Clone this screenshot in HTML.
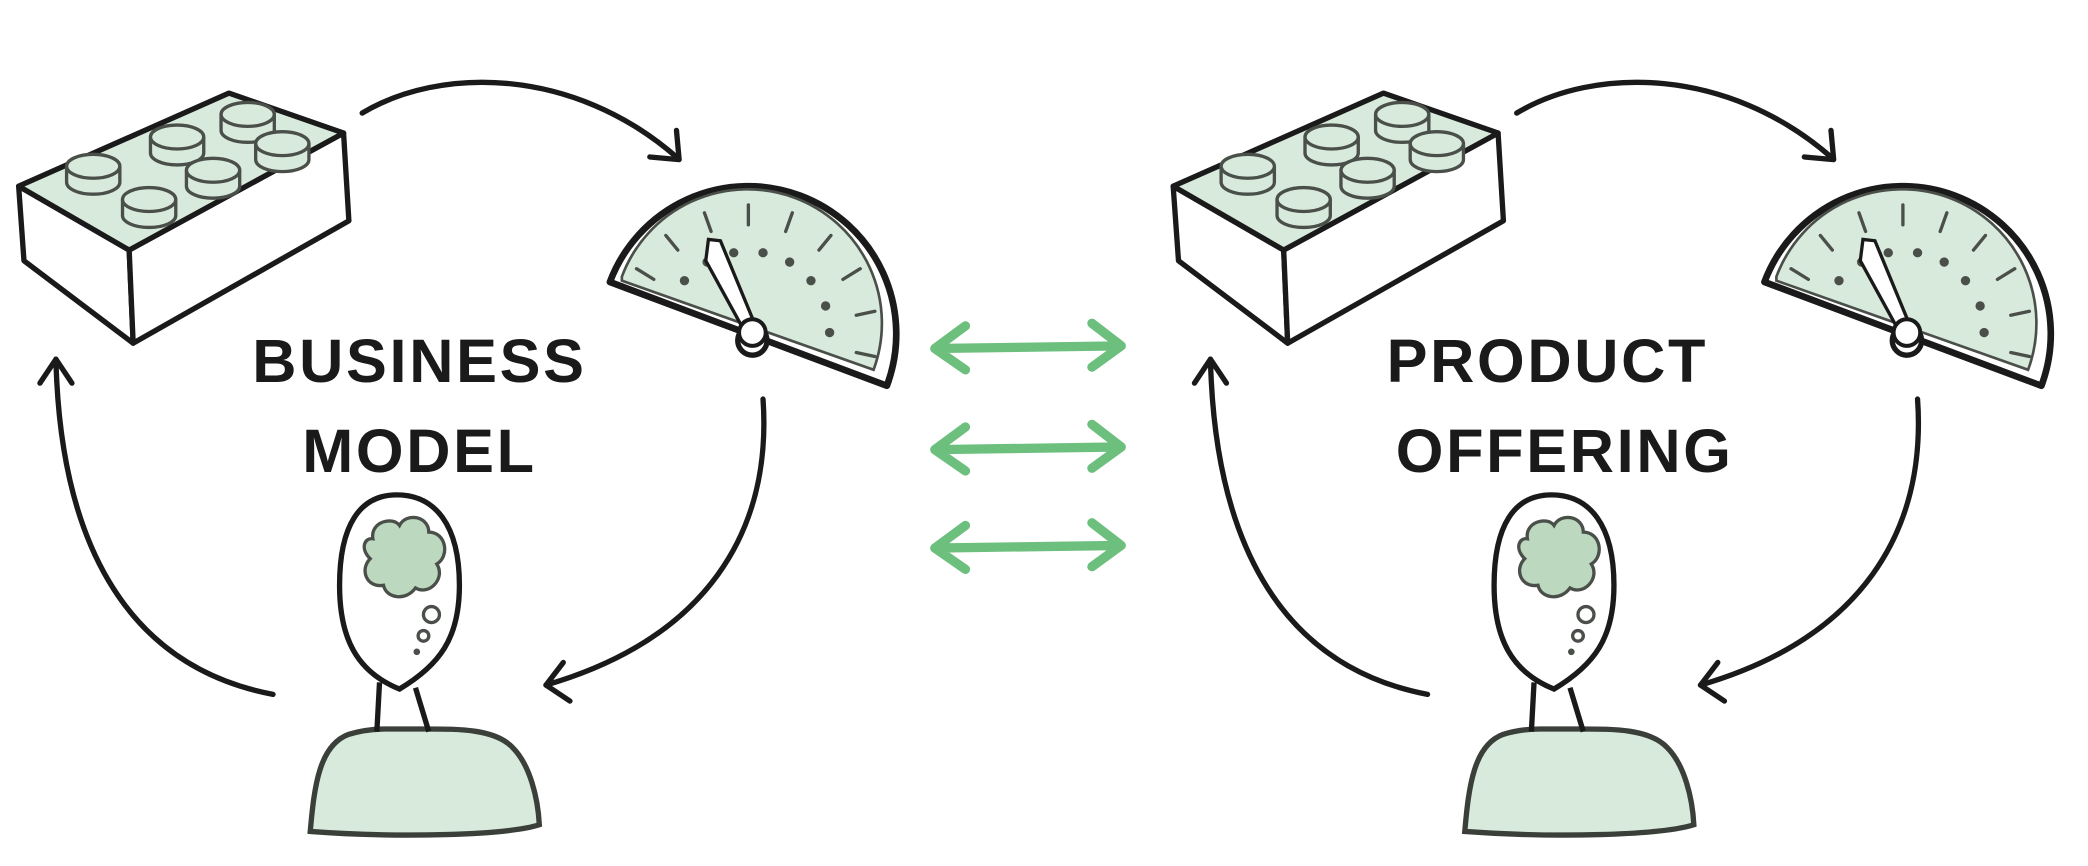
<!DOCTYPE html>
<html><head><meta charset="utf-8"><style>
html,body{margin:0;padding:0;background:#fff;}
svg{display:block}
text{font-family:"Liberation Sans",sans-serif;font-weight:bold;fill:#1a1a1a;}
</style></head><body>
<svg width="2088" height="866" viewBox="0 0 1568 651" preserveAspectRatio="none" xmlns="http://www.w3.org/2000/svg">
<defs>
<g id="stud"><path d="M-20,0 v12 a20,9 0 0 0 40,0 v-12"/><ellipse cx="0" cy="0" rx="20" ry="9"/></g>
<g id="grp">
  <!-- brick -->
  <g stroke="#1a1a1a" stroke-width="4" stroke-linejoin="round" fill="#fff">
    <polygon points="14,140 97,188 100,258 18,196"/>
    <polygon points="97,188 258,100 262,166 100,258"/>
    <polygon points="14,140 172,70 258,100 97,188" fill="#d8eadb"/>
  </g>
  <g stroke="#4a4f4a" stroke-width="2.5" fill="#d8eadb">
    <use href="#stud" x="70" y="125"/>
    <use href="#stud" x="133" y="103"/>
    <use href="#stud" x="186" y="86"/>
    <use href="#stud" x="212" y="108"/>
    <use href="#stud" x="160" y="128"/>
    <use href="#stud" x="112" y="150"/>
  </g>
  <!-- gauge -->
  <path d="M458,212 A111,111 0 0 1 666,290 Z" fill="#fff" stroke="#1a1a1a" stroke-width="5" stroke-linejoin="round"/>
  <path d="M467,208 A100,100 0 0 1 656,278 L467,211 Z" fill="#d8eadb" stroke="#4a4f4a" stroke-width="2"/>
  <g stroke="#4a4f4a" stroke-width="2.5" stroke-linecap="round">
    <line x1="491" y1="210" x2="478" y2="202"/>
    <line x1="509" y1="188" x2="500" y2="177"/>
    <line x1="534" y1="174" x2="529" y2="160"/>
    <line x1="562" y1="169" x2="562" y2="154"/>
    <line x1="590" y1="174" x2="595" y2="160"/>
    <line x1="615" y1="188" x2="624" y2="177"/>
    <line x1="633" y1="210" x2="646" y2="202"/>
    <line x1="643" y1="237" x2="657" y2="234"/>
    <line x1="643" y1="265" x2="657" y2="268"/>
  </g>
  <g fill="#4a4f4a">
    <circle cx="514" cy="211" r="3.5"/><circle cx="531" cy="197" r="3.5"/>
    <circle cx="551" cy="190" r="3.5"/><circle cx="573" cy="190" r="3.5"/>
    <circle cx="593" cy="197" r="3.5"/><circle cx="609" cy="211" r="3.5"/>
    <circle cx="620" cy="230" r="3.5"/><circle cx="623" cy="250" r="3.5"/>
  </g>
  <polygon points="532,180 541,181 567,244 558,247 530,196" fill="#fff" stroke="#1a1a1a" stroke-width="2.5"/>
  <circle cx="565" cy="256" r="11" fill="#fff" stroke="#1a1a1a" stroke-width="4"/>
  <circle cx="565" cy="250" r="10" fill="#fff" stroke="#1a1a1a" stroke-width="3"/>
  <!-- person -->
  <path d="M233,625 C236,590 240,560 262,552 C275,548 285,548 290,548 L320,548 C345,548 372,548 385,562 C398,575 404,600 405,620 C380,628 300,630 233,625 Z" fill="#d8eadb" stroke="#3a3f3a" stroke-width="4"/>
  <path d="M285,513 L283,550 M312,517 L322,550" stroke="#1a1a1a" stroke-width="4" fill="none"/>
  <path d="M298,372 C270,372 255,395 255,440 C255,480 268,505 300,518 C330,500 345,480 345,440 C345,395 327,372 298,372 Z" fill="#fff" stroke="#1a1a1a" stroke-width="4"/>
  <path d="M280,405 C278,392 295,388 300,395 C305,385 322,388 322,400 C335,400 338,418 328,424 C335,435 322,448 312,442 C305,452 290,450 288,440 C275,442 270,428 278,420 C270,412 274,404 280,405 Z" fill="#bcd9c0" stroke="#4a4f4a" stroke-width="2.5"/>
  <circle cx="324" cy="462" r="6" fill="#fff" stroke="#4a4f4a" stroke-width="2.5"/>
  <circle cx="318" cy="478" r="4" fill="#fff" stroke="#4a4f4a" stroke-width="2.5"/>
  <circle cx="313" cy="490" r="2.5" fill="#4a4f4a"/>
  <!-- cycle arrows -->
  <g stroke="#1a1a1a" stroke-width="4" fill="none" stroke-linecap="round" stroke-linejoin="round">
    <path d="M272,85 C330,50 430,50 508,118"/>
    <path d="M488,118 L510,120 L508,98"/>
    <path d="M573,300 C580,400 530,480 410,515"/>
    <path d="M423,498 L410,515 L428,527"/>
    <path d="M205,522 C90,500 45,400 42,270"/>
    <path d="M30,288 L42,270 L54,288"/>
  </g>
</g>
</defs>
<use href="#grp"/>
<use href="#grp" x="867"/>
<text x="315" y="287" font-size="46" text-anchor="middle" letter-spacing="2">BUSINESS</text>
<text x="315" y="355" font-size="46" text-anchor="middle" letter-spacing="2">MODEL</text>
<text x="1162" y="287" font-size="46" text-anchor="middle" letter-spacing="2">PRODUCT</text>
<text x="1175" y="355" font-size="46" text-anchor="middle" letter-spacing="2">OFFERING</text>
<g stroke="#6dbf7e" stroke-width="7" fill="none" stroke-linecap="round" stroke-linejoin="round">
  <path d="M702,262 L842,260 M725,245 L702,262 L725,278 M820,243 L842,260 L820,276"/>
  <path d="M702,338 L842,336 M725,321 L702,338 L725,354 M820,319 L842,336 L820,352"/>
  <path d="M702,412 L842,410 M725,395 L702,412 L725,428 M820,393 L842,410 L820,426"/>
</g>
</svg>
</body></html>
